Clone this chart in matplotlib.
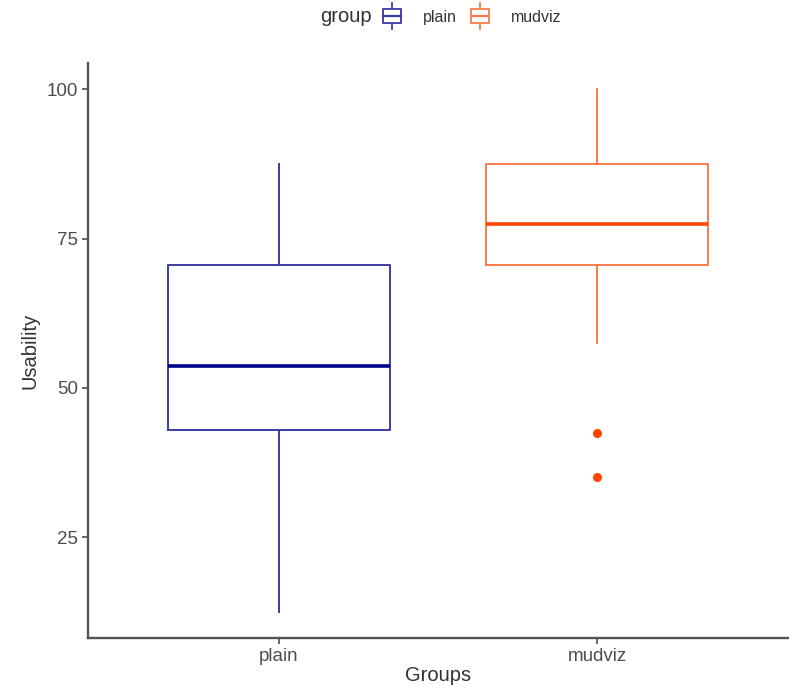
import matplotlib.pyplot as plt
from matplotlib.legend_handler import HandlerBase
from matplotlib.patches import Rectangle
from matplotlib.lines import Line2D

plt.rcParams['font.family'] = ['Liberation Sans', 'DejaVu Sans']

groups = ['plain', 'mudviz']
whislo = [12.5, 57.5]
q1 = [43.0, 70.5]
med = [53.6, 77.5]
q3 = [70.5, 87.5]
whishi = [87.5, 100.0]
fliers = [[], [42.5, 35.0]]

line_col = ['#3b3ba6', '#ff7a4d']
med_col = ['#00008b', '#ff4500']

stats = []
for i, g in enumerate(groups):
    stats.append(dict(label=g, whislo=whislo[i], q1=q1[i], med=med[i],
                      q3=q3[i], whishi=whishi[i], fliers=fliers[i]))

fig = plt.figure(figsize=(7.89, 6.9), dpi=100)
ax = fig.add_axes([0.1115, 0.0754, 0.887, 0.8333])

for i, s in enumerate(stats):
    ax.bxp([s], positions=[i + 1], widths=0.7, showcaps=False,
           boxprops=dict(color=line_col[i], linewidth=1.4),
           whiskerprops=dict(color=line_col[i], linewidth=1.4),
           medianprops=dict(color=med_col[i], linewidth=2.6),
           flierprops=dict(marker='o', markerfacecolor=med_col[i],
                           markeredgecolor=med_col[i], markersize=5.5))

ax.set_xlim(0.4, 2.6)
ax.set_ylim(8.1, 104.4)
ax.set_xticks([1, 2])
ax.set_xticklabels(groups)
ax.set_yticks([25, 50, 75, 100])
ax.tick_params(labelsize=13.5, colors='#4d4d4d', length=4, width=1.2, pad=3)
for t in ax.get_xticklabels() + ax.get_yticklabels():
    t.set_color('#4d4d4d')
ax.set_xlabel('Groups', fontsize=14.5, color='#333333', labelpad=1)
ax.set_ylabel('Usability', fontsize=14.5, color='#333333', labelpad=5)
for side in ['top', 'right']:
    ax.spines[side].set_visible(False)
for side in ['left', 'bottom']:
    ax.spines[side].set_color('#555555')
    ax.spines[side].set_linewidth(1.7)


class HandlerBox(HandlerBase):
    def create_artists(self, legend, orig_handle, xdescent, ydescent,
                       width, height, fontsize, trans):
        c = orig_handle.get_color()
        x0 = -xdescent
        y0 = -ydescent
        cx = x0 + width / 2
        whisk = Line2D([cx, cx], [y0 - height * 0.45, y0 + height * 1.45],
                       color=c, lw=1.3, transform=trans)
        rect = Rectangle((x0, y0), width, height, facecolor='white',
                         edgecolor=c, linewidth=1.3, transform=trans)
        mid = Line2D([x0, x0 + width], [y0 + height / 2] * 2, color=c,
                     lw=1.6, transform=trans)
        return [whisk, rect, mid]


handles = [Line2D([], [], color=line_col[i]) for i in range(2)]
fig.text(320 / 789, 1 - 16 / 690, 'group', fontsize=14.5, color='#333333',
         va='center', ha='left')
fig.legend(handles, groups, handler_map={Line2D: HandlerBox()},
           loc='center left', bbox_to_anchor=(383 / 789, 1 - 17 / 690),
           ncol=2, frameon=False, fontsize=11.5, handlelength=1.1,
           handleheight=0.9, handletextpad=1.4, columnspacing=0.9,
           borderpad=0, borderaxespad=0, labelcolor='#333333')

fig.savefig('out.png', dpi=100)
